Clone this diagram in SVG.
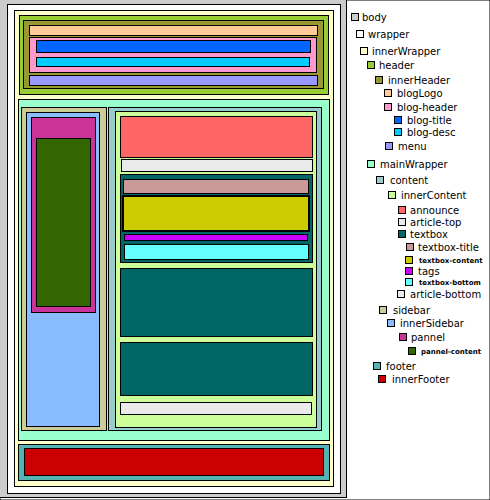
<svg xmlns="http://www.w3.org/2000/svg" width="490" height="500" viewBox="0 0 490 500">
<style>
rect{stroke:#000;stroke-width:1}
.t{font-family:"DejaVu Sans","Verdana",sans-serif;font-size:10px;fill:#000}
.s{font-family:"DejaVu Sans","Verdana",sans-serif;font-size:7px;font-weight:bold;fill:#000}
.body{fill:#cccccc}.wrapper{fill:#ffffff}.innerWrapper{fill:#ffffcc}.header{fill:#99cc33}.innerHeader{fill:#999933}
.blogLogo{fill:#ffcc99}.blogHeader{fill:#ff99cc}.blogTitle{fill:#0066ff}.blogDesc{fill:#00ccff}.menu{fill:#9999ff}
.mainWrapper{fill:#99ffcc}.content{fill:#99cccc}.innerContent{fill:#ccff99}.announce{fill:#ff6666}.articleTop{fill:#eaeaea}
.textbox{fill:#006666}.textboxTitle{fill:#cc9999}.textboxContent{fill:#cccc00}.tags{fill:#cc00ff}.textboxBottom{fill:#66ffff}
.articleBottom{fill:#eaeaea}.sidebar{fill:#cccc99}.innerSidebar{fill:#88bbff}.pannel{fill:#cc3399}.pannelContent{fill:#336600}
.footer{fill:#55b3b3}.innerFooter{fill:#cc0000}
</style>
<rect width="490" height="500" fill="#fff" stroke="none"/>
<g id="layout">
<g id="body"><rect class="body" x="-0.5" y="-0.5" width="347" height="498"/></g>
<g id="wrapper"><rect class="wrapper" x="7.5" y="4.5" width="333" height="489"/></g>
<g id="innerWrapper"><rect class="innerWrapper" x="14.5" y="10.5" width="319" height="476"/></g>
<g id="header"><rect class="header" x="19.5" y="15.5" width="309" height="79"/></g>
<g id="innerHeader"><rect class="innerHeader" x="23.5" y="20.5" width="300" height="68"/></g>
<g id="blogLogo"><rect class="blogLogo" x="29.5" y="25.5" width="288" height="10"/></g>
<g id="blog-header"><rect class="blogHeader" x="29.5" y="37.5" width="287" height="35"/></g>
<g id="blog-title"><rect class="blogTitle" x="36.5" y="40.5" width="274" height="12"/></g>
<g id="blog-desc"><rect class="blogDesc" x="36.5" y="57.5" width="273" height="9"/></g>
<g id="menu"><rect class="menu" x="29.5" y="75.5" width="288" height="10"/></g>
<g id="mainWrapper"><rect class="mainWrapper" x="18.5" y="99.5" width="311" height="341"/></g>
<g id="sidebar"><rect class="sidebar" x="21.5" y="107.5" width="85" height="323"/></g>
<g id="innerSidebar"><rect class="innerSidebar" x="26.5" y="112.5" width="73" height="314"/></g>
<g id="pannel"><rect class="pannel" x="31.5" y="117.5" width="64" height="195"/></g>
<g id="pannel-content"><rect class="pannelContent" x="36.5" y="138.5" width="54" height="168"/></g>
<g id="content"><rect class="content" x="108.5" y="107.5" width="213" height="323"/></g>
<g id="innerContent"><rect class="innerContent" x="115.5" y="111.5" width="201" height="316"/></g>
<g id="announce"><rect class="announce" x="120.5" y="116.5" width="192" height="41"/></g>
<g id="article-top"><rect class="articleTop" x="121.5" y="159.5" width="191" height="12"/></g>
<g id="textbox"><rect class="textbox" x="120.5" y="174.5" width="192" height="88"/></g>
<g id="textbox-title"><rect class="textboxTitle" x="123.5" y="179.5" width="185" height="14"/></g>
<g id="textbox-content"><rect class="textboxContent" x="123" y="196" width="186" height="35" style="stroke-width:2"/></g>
<g id="tags"><rect class="tags" x="124.5" y="234.5" width="183" height="6"/></g>
<g id="textbox-bottom"><rect class="textboxBottom" x="124.5" y="244.5" width="184" height="15"/></g>
<g id="textbox2"><rect class="textbox" x="120.5" y="268.5" width="192" height="68"/></g>
<g id="textbox3"><rect class="textbox" x="120.5" y="342.5" width="192" height="53"/></g>
<g id="article-bottom"><rect class="articleBottom" x="120.5" y="402.5" width="191" height="12"/></g>
<g id="footer"><rect class="footer" x="18.5" y="444.5" width="311" height="36"/></g>
<g id="innerFooter"><rect class="innerFooter" x="24.5" y="448.5" width="299" height="27"/></g>
</g>
<g id="connectors"></g>
<g id="legend">
<g id="lg-body"><rect class="body" x="351.5" y="13.5" width="7" height="7"/><text class="t" x="362" y="21">body</text></g>
<g id="lg-wrapper"><rect class="wrapper" x="356.5" y="30.5" width="7" height="7"/><text class="t" x="368" y="38">wrapper</text></g>
<g id="lg-innerWrapper"><rect class="innerWrapper" x="360.5" y="47.5" width="7" height="7"/><text class="t" x="372" y="55">innerWrapper</text></g>
<g id="lg-header"><rect class="header" x="367.5" y="61.5" width="7" height="7"/><text class="t" x="379" y="69">header</text></g>
<g id="lg-innerHeader"><rect class="innerHeader" x="375.5" y="76.5" width="7" height="7"/><text class="t" x="388" y="84">innerHeader</text></g>
<g id="lg-blogLogo"><rect class="blogLogo" x="384.5" y="89.5" width="7" height="7"/><text class="t" x="397" y="97">blogLogo</text></g>
<g id="lg-blog-header"><rect class="blogHeader" x="384.5" y="103.5" width="7" height="7"/><text class="t" x="397" y="111">blog-header</text></g>
<g id="lg-blog-title"><rect class="blogTitle" x="394.5" y="116.5" width="7" height="7"/><text class="t" x="407" y="124">blog-title</text></g>
<g id="lg-blog-desc"><rect class="blogDesc" x="394.5" y="128.5" width="7" height="7"/><text class="t" x="407" y="136">blog-desc</text></g>
<g id="lg-menu"><rect class="menu" x="385.5" y="142.5" width="7" height="7"/><text class="t" x="398" y="150">menu</text></g>
<g id="lg-mainWrapper"><rect class="mainWrapper" x="367.5" y="160.5" width="7" height="7"/><text class="t" x="380" y="168">mainWrapper</text></g>
<g id="lg-content"><rect class="content" x="376.5" y="176.5" width="7" height="7"/><text class="t" x="390" y="184">content</text></g>
<g id="lg-innerContent"><rect class="innerContent" x="388.5" y="191.5" width="7" height="7"/><text class="t" x="401" y="199">innerContent</text></g>
<g id="lg-announce"><rect class="announce" x="398.5" y="206.5" width="7" height="7"/><text class="t" x="410" y="214">announce</text></g>
<g id="lg-article-top"><rect class="articleTop" x="398.5" y="218.5" width="7" height="7"/><text class="t" x="410" y="226">article-top</text></g>
<g id="lg-textbox"><rect class="textbox" x="398.5" y="230.5" width="7" height="7"/><text class="t" x="410" y="238">textbox</text></g>
<g id="lg-textbox-title"><rect class="textboxTitle" x="406.5" y="243.5" width="7" height="7"/><text class="t" x="418" y="251">textbox-title</text></g>
<g id="lg-textbox-content"><rect class="textboxContent" x="405.5" y="256.5" width="7" height="7"/><text class="s" x="419" y="263">textbox-content</text></g>
<g id="lg-tags"><rect class="tags" x="405.5" y="267.5" width="7" height="7"/><text class="t" x="418" y="275">tags</text></g>
<g id="lg-textbox-bottom"><rect class="textboxBottom" x="405.5" y="278.5" width="7" height="7"/><text class="s" x="419" y="285">textbox-bottom</text></g>
<g id="lg-article-bottom"><rect class="articleBottom" x="397.5" y="290.5" width="7" height="7"/><text class="t" x="410" y="298">article-bottom</text></g>
<g id="lg-sidebar"><rect class="sidebar" x="379.5" y="306.5" width="7" height="7"/><text class="t" x="393" y="314">sidebar</text></g>
<g id="lg-innerSidebar"><rect class="innerSidebar" x="387.5" y="319.5" width="7" height="7"/><text class="t" x="400" y="327">innerSidebar</text></g>
<g id="lg-pannel"><rect class="pannel" x="399.5" y="333.5" width="7" height="7"/><text class="t" x="411" y="341">pannel</text></g>
<g id="lg-pannel-content"><rect class="pannelContent" x="408.5" y="347.5" width="7" height="7"/><text class="s" x="421" y="354">pannel-content</text></g>
<g id="lg-footer"><rect class="footer" x="373.5" y="362.5" width="7" height="7"/><text class="t" x="386" y="370">footer</text></g>
<g id="lg-innerFooter"><rect class="innerFooter" x="378.5" y="375.5" width="7" height="7"/><text class="t" x="392" y="383">innerFooter</text></g>
</g>
</svg>
